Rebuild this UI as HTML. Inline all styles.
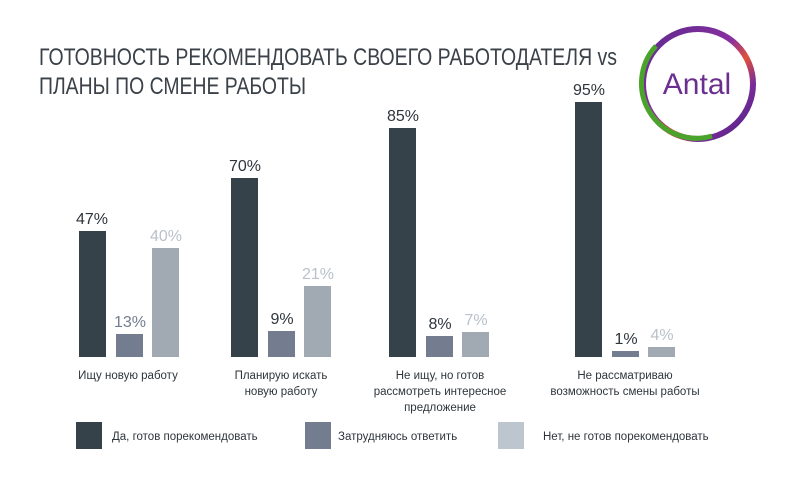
<!DOCTYPE html>
<html><head><meta charset="utf-8"><style>
html,body{margin:0;padding:0;background:#fff;}
svg{display:block;font-family:"Liberation Sans",sans-serif;}
</style></head><body>
<svg width="800" height="480" viewBox="0 0 800 480" xmlns="http://www.w3.org/2000/svg">
<defs>
<linearGradient id="rg" x1="0" y1="0" x2="1" y2="1">
<stop offset="0" stop-color="#5b2a8c"/><stop offset="0.45" stop-color="#8a2fa0"/><stop offset="0.6" stop-color="#e0503a"/><stop offset="0.75" stop-color="#7a2c9a"/><stop offset="1" stop-color="#4a2080"/>
</linearGradient>
</defs>
<text x="39" y="65" font-size="24" fill="#3a4148" textLength="578" lengthAdjust="spacingAndGlyphs">ГОТОВНОСТЬ РЕКОМЕНДОВАТЬ СВОЕГО РАБОТОДАТЕЛЯ vs</text>
<text x="39" y="94" font-size="24" fill="#3a4148" textLength="267" lengthAdjust="spacingAndGlyphs">ПЛАНЫ ПО СМЕНЕ РАБОТЫ</text>
<!-- logo -->
<circle cx="698" cy="84" r="55" fill="none" stroke="url(#rg)" stroke-width="6"/>
<path d="M656,46 A55,55 0 0 0 712,136" fill="none" stroke="#4aa32a" stroke-width="5"/>
<text x="697" y="94" font-size="30" fill="#6a2f8f" text-anchor="middle">Antal</text>
<!-- bars -->
<g>
<rect x="79" y="231" width="27" height="126" fill="#36424a"/>
<rect x="116" y="334" width="27" height="23" fill="#737d8f"/>
<rect x="152" y="248" width="27" height="109" fill="#a1aab3"/>
<rect x="231" y="178" width="27" height="179" fill="#36424a"/>
<rect x="268" y="331" width="27" height="26" fill="#737d8f"/>
<rect x="304" y="286" width="27" height="71" fill="#a1aab3"/>
<rect x="389" y="128" width="27" height="229" fill="#36424a"/>
<rect x="426" y="336" width="27" height="21" fill="#737d8f"/>
<rect x="462" y="332" width="27" height="25" fill="#a1aab3"/>
<rect x="575" y="102" width="27" height="255" fill="#36424a"/>
<rect x="612" y="351" width="27" height="6" fill="#737d8f"/>
<rect x="648" y="347" width="27" height="10" fill="#a1aab3"/>
</g>
<g font-size="16" text-anchor="middle">
<text x="92" y="224" fill="#2e353b">47%</text>
<text x="130" y="327" fill="#737d8f">13%</text>
<text x="166" y="241" fill="#b9c1c9">40%</text>
<text x="245" y="171" fill="#2e353b">70%</text>
<text x="282" y="324" fill="#2e353b">9%</text>
<text x="318" y="279" fill="#b9c1c9">21%</text>
<text x="403" y="121" fill="#2e353b">85%</text>
<text x="440" y="329" fill="#2e353b">8%</text>
<text x="476" y="325" fill="#b9c1c9">7%</text>
<text x="589" y="95" fill="#2e353b">95%</text>
<text x="626" y="344" fill="#2e353b">1%</text>
<text x="662" y="340" fill="#b9c1c9">4%</text>
</g>
<g font-size="11.5" text-anchor="middle" fill="#2e353b">
<text x="128" y="379">Ищу новую работу</text>
<text x="281" y="379">Планирую искать</text>
<text x="281" y="395">новую работу</text>
<text x="440" y="379">Не ищу, но готов</text>
<text x="440" y="395">рассмотреть интересное</text>
<text x="440" y="411">предложение</text>
<text x="625" y="379">Не рассматриваю</text>
<text x="625" y="395">возможность смены работы</text>
</g>
<rect x="76" y="422" width="26" height="27" fill="#36424a"/>
<rect x="305" y="422" width="26" height="27" fill="#737d8f"/>
<rect x="498" y="422" width="26" height="27" fill="#bdc6cf"/>
<g font-size="11.5" fill="#2e353b">
<text x="112" y="440">Да, готов порекомендовать</text>
<text x="338" y="440">Затрудняюсь ответить</text>
<text x="543" y="440">Нет, не готов порекомендовать</text>
</g>
</svg>
</body></html>
